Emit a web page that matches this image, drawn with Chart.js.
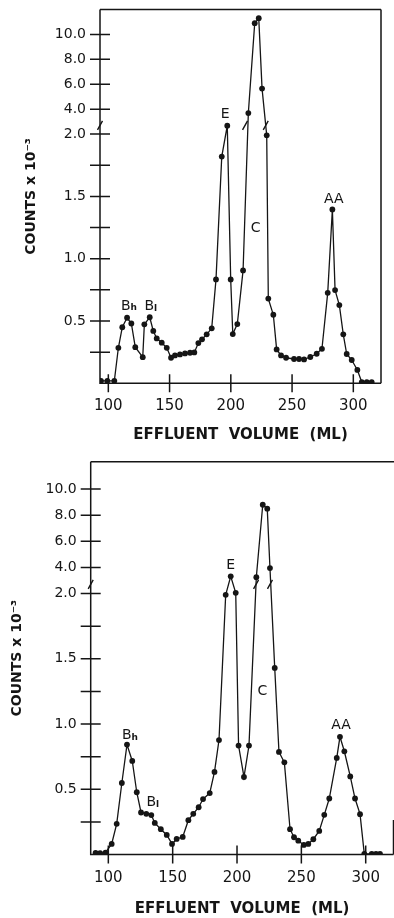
<!DOCTYPE html>
<html>
<head>
<meta charset="utf-8">
<title>Effluent volume</title>
<script src="https://cdn.jsdelivr.net/npm/chart.js@4.4.1/dist/chart.umd.min.js"></script>
<style>
  html, body { margin: 0; padding: 0; background: #fff; }
  #wrap { position: relative; width: 394px; height: 918px; }
  canvas { position: absolute; left: 0; }
  #chart1 { top: 0; }
  #chart2 { top: 450px; }
</style>
</head>
<body>
<div id="wrap">
  <canvas id="chart1" width="394" height="450"></canvas>
  <canvas id="chart2" width="394" height="468"></canvas>
</div>
<script>
// upper run
const volume1 = [94.0, 99.2, 104.9, 108.2, 111.4, 115.3, 118.8, 122.0, 128.1, 129.4,
  133.8, 136.7, 139.5, 143.6, 147.7, 151.2, 154.4, 158.5, 162.6, 166.7,
  170.2, 173.5, 176.5, 180.3, 184.4, 187.9, 192.6, 197.1, 199.9, 201.6,
  205.3, 210.0, 214.3, 219.5, 222.8, 225.5, 229.3, 230.6, 234.7, 237.4,
  241.0, 245.1, 251.6, 255.7, 259.8, 264.9, 270.1, 274.4, 279.1, 282.9,
  285.1, 288.6, 291.8, 294.6, 298.7, 303.3, 306.9, 311.0, 315.0];
const counts1 = [0.02, 0.02, 0.02, 0.285, 0.45, 0.526, 0.48, 0.29, 0.21, 0.473,
  0.53, 0.42, 0.36, 0.326, 0.285, 0.205, 0.224, 0.232, 0.24, 0.245,
  0.248, 0.323, 0.353, 0.393, 0.441, 0.834, 1.82, 2.68, 0.834, 0.395,
  0.475, 0.906, 3.69, 10.9, 11.3, 5.65, 1.99, 0.68, 0.55, 0.272,
  0.224, 0.205, 0.195, 0.195, 0.192, 0.211, 0.237, 0.277, 0.726, 1.395,
  0.748, 0.628, 0.393, 0.235, 0.187, 0.107, 0.01, 0.01, 0.01];

// lower run
const volume2 = [90.1, 93.6, 97.8, 102.6, 106.5, 110.5, 114.5, 118.6, 122.1, 125.4,
  129.5, 133.4, 136.1, 140.8, 145.4, 149.5, 153.1, 157.8, 162.2, 166.0,
  170.2, 173.6, 178.8, 182.5, 186.0, 191.2, 195.1, 199.0, 201.2, 205.4,
  209.3, 215.0, 220.0, 223.5, 225.6, 229.3, 232.6, 236.8, 241.2, 244.3,
  247.6, 251.9, 255.4, 259.3, 263.9, 267.8, 271.7, 277.5, 280.0, 283.4,
  288.0, 291.7, 295.6, 298.9, 304.7, 308.0, 311.1];
const counts2 = [0.012, 0.01, 0.015, 0.081, 0.235, 0.548, 0.842, 0.717, 0.477, 0.322,
  0.312, 0.302, 0.242, 0.194, 0.15, 0.081, 0.119, 0.135, 0.263, 0.312,
  0.362, 0.425, 0.471, 0.633, 0.877, 1.99, 3.32, 2.05, 0.835, 0.594,
  0.835, 3.25, 8.8, 8.5, 3.95, 1.43, 0.786, 0.706, 0.194, 0.132,
  0.106, 0.073, 0.081, 0.117, 0.181, 0.304, 0.429, 0.74, 0.902, 0.791,
  0.598, 0.429, 0.309, 0.005, 0.005, 0.005, 0.005];

const xTicks = [100, 150, 200, 250, 300];
const yTicks = [0.25, 0.5, 0.75, 1.0, 1.25, 1.5, 1.75, 2.0, 4.0, 6.0, 8.0, 10.0];
const yTickLabels = ['', '0.5', '', '1.0', '', '1.5', '', '2.0', '4.0', '6.0', '8.0', '10.0'];

// peak names, placed at (volume, counts)
const peakNames = ['B', 'B', 'E', 'C', 'AA'];
const peakSubs = ['h', 'l', '', '', ''];
const peakVol1 = [116.5, 134.4, 195.3, 220.2, 284.1];
const peakCount1 = [0.62, 0.615, 3.55, 1.245, 1.477];
const peakVol2 = [116.5, 134.3, 195.0, 219.8, 280.8];
const peakCount2 = [0.91, 0.396, 4.17, 1.25, 0.988];

// where the C peak crosses the axis break
const breakVol1 = [211.6, 228.5];
const breakVol2 = [214.8, 225.6];

const ink = '#151515';
const family = "'DejaVu Sans', sans-serif";
const BREAK = 2.0;    // above this the axis is squeezed
const SQUEEZE = 10;

function toAxis(v) {
  return v <= BREAK ? v : BREAK + (v - BREAK) / SQUEEZE;
}

const chromPlugin = {
  id: 'chrom',
  afterDatasetsDraw(chart, args, o) {
    const { ctx, chartArea: a, scales: { x, y } } = chart;
    ctx.save();
    ctx.strokeStyle = ink;
    ctx.fillStyle = ink;
    ctx.lineWidth = 1.5;

    // axes and box
    ctx.beginPath();
    ctx.moveTo(a.left, a.top);
    ctx.lineTo(a.left, a.bottom);
    ctx.lineTo(a.right, a.bottom);
    ctx.moveTo(a.left, a.top);
    ctx.lineTo(o.topToEdge ? chart.width : a.right, a.top);
    const rTop = o.rightFrom == null ? a.top : y.getPixelForValue(o.rightFrom);
    ctx.moveTo(a.right, rTop);
    ctx.lineTo(a.right, a.bottom);
    ctx.stroke();

    // tick marks cross the axes
    ctx.beginPath();
    x.ticks.forEach(t => {
      const px = x.getPixelForValue(t.value);
      ctx.moveTo(px, a.bottom - 9);
      ctx.lineTo(px, a.bottom + 9);
    });
    y.ticks.forEach(t => {
      const py = y.getPixelForValue(t.value);
      ctx.moveTo(a.left - 10, py);
      ctx.lineTo(a.left + 10, py);
    });
    ctx.stroke();

    // break marks
    const by = y.getPixelForValue(toAxis(2.7));
    ctx.lineWidth = 1.4;
    ctx.beginPath();
    [a.left].concat(o.breaks.map(v => x.getPixelForValue(v))).forEach(px => {
      ctx.moveTo(px - 2.5, by + 4.5);
      ctx.lineTo(px + 2.5, by - 4.5);
    });
    ctx.stroke();

    // peak names
    ctx.textBaseline = 'middle';
    ctx.textAlign = 'left';
    o.names.forEach((name, i) => {
      const px = x.getPixelForValue(o.vols[i]);
      const py = y.getPixelForValue(toAxis(o.counts[i]));
      ctx.font = '14px ' + family;
      const w1 = ctx.measureText(name).width;
      ctx.font = '9px ' + family;
      const w2 = o.subs[i] ? ctx.measureText(o.subs[i]).width : 0;
      const x0 = px - (w1 + w2) / 2;
      ctx.font = '14px ' + family;
      ctx.fillText(name, x0, py);
      if (o.subs[i]) {
        ctx.font = 'bold 9px ' + family;
        ctx.fillText(o.subs[i], x0 + w1, py + 2);
      }
    });
    ctx.restore();
  }
};

function makeChart(id, volume, counts, look) {
  return new Chart(document.getElementById(id), {
    type: 'line',
    data: {
      datasets: [{
        data: volume.map((v, i) => ({ x: v, y: toAxis(counts[i]) })),
        borderColor: ink,
        borderWidth: 1.3,
        pointRadius: 2.9,
        pointBackgroundColor: ink,
        pointBorderWidth: 0,
        tension: 0
      }]
    },
    options: {
      responsive: false,
      animation: false,
      layout: { padding: look.pad, autoPadding: false },
      plugins: {
        legend: { display: false },
        tooltip: { enabled: false },
        chrom: look.chrom
      },
      scales: {
        x: {
          type: 'linear',
          min: look.xMin,
          max: look.xMax,
          grid: { display: false, drawTicks: false },
          border: { display: false },
          afterBuildTicks: s => { s.ticks = xTicks.map(v => ({ value: v })); },
          afterFit: s => {
            s.height = look.xHeight;
            // the end labels fit already, keep the plot edges where they are
            s.paddingLeft = 0;
            s.paddingRight = 0;
          },
          ticks: {
            color: ink, autoSkip: false, maxRotation: 0,
            padding: look.xTickPad,
            font: { family: family, size: 15, lineHeight: 1 }
          },
          title: {
            display: true,
            text: 'EFFLUENT  VOLUME  (ML)',
            color: ink,
            font: { family: family, size: 15, weight: 'bold', lineHeight: 1 },
            padding: { top: 0, bottom: look.xTitlePad }
          }
        },
        y: {
          type: 'linear',
          min: 0,
          max: look.yMax,
          grid: { display: false, drawTicks: false },
          border: { display: false },
          afterBuildTicks: s => { s.ticks = yTicks.map(v => ({ value: toAxis(v) })); },
          afterFit: s => {
            s.width = look.yWidth;
            s.paddingTop = 0;
            s.paddingBottom = 0;
          },
          ticks: {
            color: ink, autoSkip: false,
            padding: look.yTickPad,
            font: { family: family, size: 14, lineHeight: 1 },
            callback: (v, i) => yTickLabels[i]
          },
          title: {
            display: true,
            text: 'COUNTS x 10\u207B\u00B3',
            color: ink,
            font: { family: family, size: 14, weight: 'bold', lineHeight: 1 },
            padding: { top: look.yTitlePad, bottom: 0 }
          }
        }
      }
    },
    plugins: [chromPlugin]
  });
}

makeChart('chart1', volume1, counts1, {
  xMin: 93.2, xMax: 322.6, yMax: 3.0,
  pad: { top: 9.5, right: 13, bottom: 0, left: 0 },
  yWidth: 100, xHeight: 66.7,
  xTickPad: 15, xTitlePad: 7, yTickPad: 14, yTitlePad: 24,
  chrom: { topToEdge: false, rightFrom: null, breaks: breakVol1,
    names: peakNames, subs: peakSubs, vols: peakVol1, counts: peakCount1 }
});

makeChart('chart2', volume2, counts2, {
  xMin: 86.3, xMax: 321.6, yMax: 3.01,
  pad: { top: 11.7, right: 0.5, bottom: 0, left: 0 },
  yWidth: 90.7, xHeight: 63.5,
  xTickPad: 16.5, xTitlePad: 1, yTickPad: 14, yTitlePad: 10,
  chrom: { topToEdge: true, rightFrom: 0.265, breaks: breakVol2,
    names: peakNames, subs: peakSubs, vols: peakVol2, counts: peakCount2 }
});
</script>
</body>
</html>
